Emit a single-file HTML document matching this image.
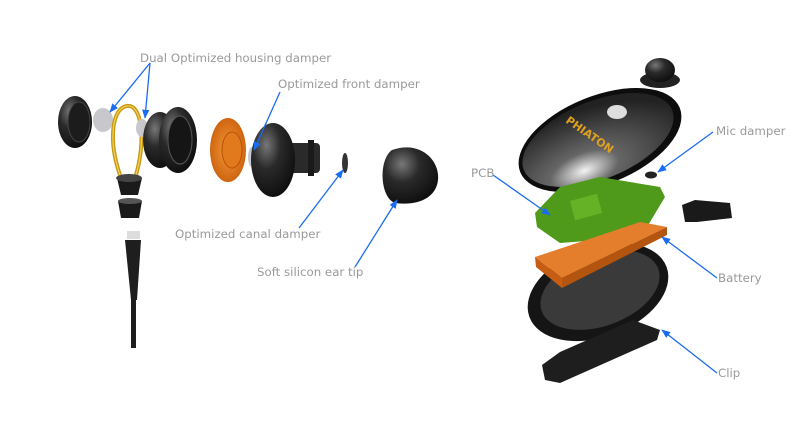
<!DOCTYPE html>
<html><head><meta charset="utf-8"><style>
html,body{margin:0;padding:0;background:#fff;}
svg{display:block;}
text{font-family:"DejaVu Sans","Liberation Sans",sans-serif;font-size:11.8px;fill:#9a9a9a;}
</style></head><body>
<svg width="800" height="427" viewBox="0 0 800 427" xmlns="http://www.w3.org/2000/svg">
<defs>
<radialGradient id="dk" cx="0.35" cy="0.3" r="0.8"><stop offset="0" stop-color="#777"/><stop offset="0.4" stop-color="#2a2a2a"/><stop offset="1" stop-color="#0a0a0a"/></radialGradient>
<radialGradient id="cov" cx="0.35" cy="0.8" r="0.75"><stop offset="0" stop-color="#f4f4f4"/><stop offset="0.3" stop-color="#666"/><stop offset="1" stop-color="#222"/></radialGradient>
<radialGradient id="or" cx="0.5" cy="0.5" r="0.6"><stop offset="0" stop-color="#f39a3a"/><stop offset="1" stop-color="#c85a08"/></radialGradient>
<marker id="ah" viewBox="0 0 10 10" refX="9" refY="5" markerWidth="7" markerHeight="7" orient="auto-start-reverse"><path d="M0,1 L10,5 L0,9 z" fill="#1a6cf0"/></marker>
</defs>

<ellipse cx="75" cy="122" rx="17" ry="26" fill="url(#dk)"/>
<ellipse cx="79" cy="122" rx="11" ry="20" fill="#1c1c1c" stroke="#444"/>
<ellipse cx="103" cy="120" rx="10" ry="12" fill="#c8c8cc"/>
<path d="M120,175 C108,140 112,108 127,106 C142,104 146,140 136,175" fill="none" stroke="#c89a10" stroke-width="4"/>
<path d="M120,175 C108,140 112,108 127,106 C142,104 146,140 136,175" fill="none" stroke="#f0d060" stroke-width="1.2"/>
<ellipse cx="142" cy="128" rx="6" ry="9" fill="#c8c8cc"/>
<ellipse cx="160" cy="140" rx="17" ry="28" fill="url(#dk)"/>
<ellipse cx="178" cy="140" rx="19" ry="33" fill="url(#dk)"/>
<ellipse cx="180" cy="140" rx="12" ry="24" fill="#151515" stroke="#555"/>
<path d="M117,178 L142,178 L138,195 L121,195 z" fill="#1a1a1a"/>
<ellipse cx="129" cy="178" rx="13" ry="4" fill="#444"/>
<path d="M118,201 L142,201 L139,218 L121,218 z" fill="#1a1a1a"/>
<ellipse cx="130" cy="201" rx="12" ry="3" fill="#555"/>
<rect x="127" y="231" width="13" height="8" fill="#ddd"/>
<path d="M125,240 L141,240 L137,300 L131,300 z" fill="#1e1e1e"/>
<rect x="131" y="298" width="5" height="50" fill="#1e1e1e"/>
<ellipse cx="228" cy="150" rx="18" ry="32" fill="url(#or)"/>
<ellipse cx="232" cy="150" rx="10" ry="18" fill="#e07a1c" stroke="#b85208"/>
<ellipse cx="252" cy="157" rx="4" ry="10" fill="#c8c8cc"/>
<rect x="286" y="143" width="34" height="30" rx="4" fill="#2a2a2a"/>
<rect x="308" y="140" width="6" height="36" fill="#1a1a1a"/>
<ellipse cx="273" cy="160" rx="22" ry="37" fill="url(#dk)"/>
<ellipse cx="345" cy="163" rx="3" ry="10" fill="#333"/>
<path d="M392,150 C420,140 440,160 438,180 C436,198 418,206 395,203 C380,198 378,160 392,150 z" fill="url(#dk)"/>

<ellipse cx="660" cy="80" rx="20" ry="8" fill="#222"/>
<ellipse cx="660" cy="70" rx="15" ry="12" fill="url(#dk)"/>
<ellipse cx="600" cy="140" rx="86" ry="44" transform="rotate(-22 600 140)" fill="#0d0d0d"/>
<ellipse cx="598" cy="140" rx="80" ry="39" transform="rotate(-22 598 140)" fill="url(#cov)"/>
<ellipse cx="617" cy="112" rx="10" ry="7" fill="#ddd"/>
<text x="565" y="122" transform="rotate(35 565 122)" style="fill:#e0a020;font-weight:bold;font-size:11px">PHIATON</text>
<ellipse cx="651" cy="175" rx="6" ry="3.5" fill="#222"/>
<ellipse cx="598" cy="292" rx="73" ry="45" transform="rotate(-20 598 292)" fill="#151515"/>
<ellipse cx="600" cy="290" rx="62" ry="36" transform="rotate(-20 600 290)" fill="#3a3a3a"/>
<polygon points="535,213 560,187 600,177 660,187 665,197 647,227 600,240 560,243 537,227" fill="#4f9a1a"/>
<rect x="572" y="197" width="28" height="20" fill="#66b226" transform="rotate(-15 586 207)"/>
<polygon points="535,257 640,222 667,227 562,278" fill="#e57e2c"/>
<polygon points="535,257 562,278 562,288 536,267" fill="#c65d12"/>
<polygon points="562,278 667,227 667,235 562,288" fill="#b4550f"/>
<polygon points="542,365 560,352 633,320 660,330 657,340 560,383 545,380" fill="#1e1e1e"/>
<polygon points="682,205 695,200 730,203 732,218 697,222 685,222" fill="#1a1a1a"/>

<g stroke="#1a6cf0" stroke-width="1.3" fill="none" marker-end="url(#ah)">
<line x1="150" y1="63" x2="110" y2="112"/>
<line x1="150" y1="63" x2="145" y2="118"/>
<line x1="280" y1="92" x2="254" y2="150"/>
<line x1="299" y1="228" x2="343" y2="170"/>
<line x1="355" y1="267" x2="397" y2="200"/>
<line x1="713" y1="132" x2="658" y2="172"/>
<line x1="493" y1="175" x2="550" y2="215"/>
<line x1="717" y1="278" x2="662" y2="237"/>
<line x1="717" y1="373" x2="662" y2="330"/>
</g>

<text x="140" y="62">Dual Optimized housing damper</text>
<text x="278" y="88">Optimized front damper</text>
<text x="175" y="238">Optimized canal damper</text>
<text x="257" y="276">Soft silicon ear tip</text>
<text x="716" y="135">Mic damper</text>
<text x="471" y="177">PCB</text>
<text x="718" y="282">Battery</text>
<text x="718" y="377">Clip</text>
</svg>
</body></html>
